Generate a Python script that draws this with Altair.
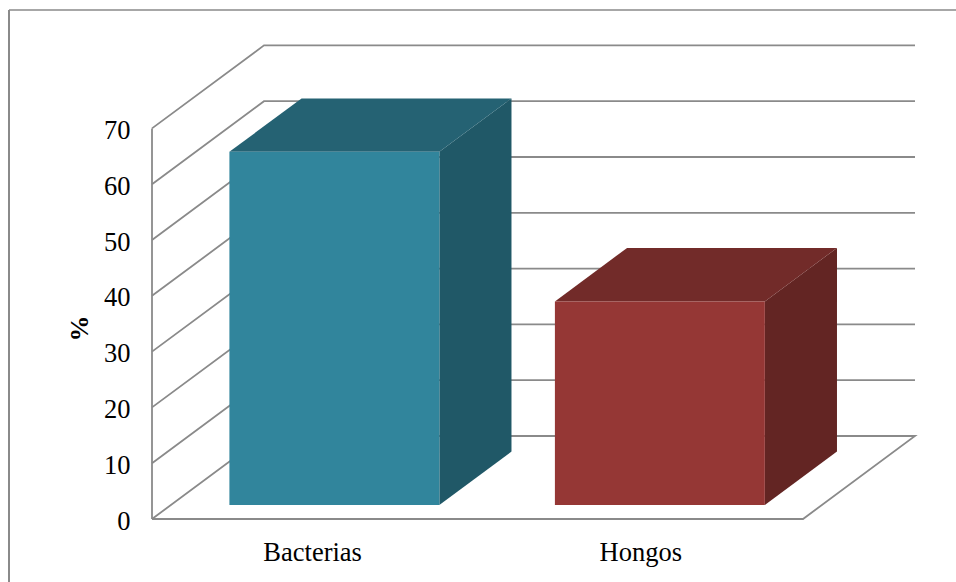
import altair as alt
import pandas as pd

# Survey values
categories = ["Bacterias", "Hongos"]
percent = [63.3, 36.5]
axis_values = [0, 10, 20, 30, 40, 50, 60, 70]

front_colors = ["#31859C", "#953735"]
top_colors = ["#256273", "#722B29"]
side_colors = ["#205867", "#632523"]

# Oblique projection of the box: one unit of depth shifts a point right and up
PX_PER_SLOT = 325.5
PX_PER_UNIT = 5.58
DEPTH_X = 112 / PX_PER_SLOT
DEPTH_Y = 83 / PX_PER_UNIT
BAR_START, BAR_END = 0.18, 0.825
DEPTH_FRONT, DEPTH_BACK = 0.168, 0.812
PLOT_W, PLOT_H = 763, 474
SLOTS = len(categories)


def project(slot, value, depth):
    return slot + depth * DEPTH_X, value + depth * DEPTH_Y


# Wall grid, floor outline and value axis line
grid_rows = []


def add_path(name, points):
    for i, (s, v, d) in enumerate(points):
        px, py = project(s, v, d)
        grid_rows.append({"path": name, "i": i, "px": px, "py": py})


for v in axis_values[1:]:
    add_path(f"g{v}", [(0, v, 0), (0, v, 1), (SLOTS, v, 1)])
add_path("floor", [(0, 0, 0), (SLOTS, 0, 0), (SLOTS, 0, 1), (0, 0, 1), (0, 0, 0)])
add_path("axis", [(0, 0, 0), (0, axis_values[-1], 0)])
grid = pd.DataFrame(grid_rows)

# Box faces, one row per edge point
front_rows, side_rows, top_rows = [], [], []
for k, (cat, val) in enumerate(zip(categories, percent)):
    left, right = k + BAR_START, k + BAR_END
    x0, y0 = project(left, 0, DEPTH_FRONT)
    x1, y1 = project(right, val, DEPTH_FRONT)
    front_rows.append({"cat": cat, "x": x0, "x2": x1, "y": y1, "y2": y0})
    for d in (DEPTH_FRONT, DEPTH_BACK):
        sx, sy = project(right, val, d)
        _, sb = project(right, 0, d)
        side_rows.append({"cat": cat, "x": sx, "y": sy, "y2": sb})
        tl, ty = project(left, val, d)
        top_rows.append({"cat": cat, "x": tl, "x2": sx, "y": ty})
front = pd.DataFrame(front_rows)
side = pd.DataFrame(side_rows)
top = pd.DataFrame(top_rows)

x_scale = alt.Scale(domain=[0, PLOT_W / PX_PER_SLOT], nice=False, zero=False)
y_scale = alt.Scale(domain=[0, PLOT_H / PX_PER_UNIT], nice=False, zero=False)
FONT = "Liberation Serif"


def cat_color(colors):
    return alt.Color("cat:N", scale=alt.Scale(domain=categories, range=colors), legend=None)


x_axis = alt.Axis(
    values=[0.492, 1.5],
    labelExpr="datum.value < 1 ? 'Bacterias' : 'Hongos'",
    title=None, domain=False, ticks=False, grid=False,
    labelFont=FONT, labelFontSize=26.5, labelColor="#000000", labelPadding=20,
    labelOverlap=False, labelFlush=False,
)
y_axis = alt.Axis(
    values=axis_values, title="%", domain=False, ticks=False, grid=False,
    labelFont=FONT, labelFontSize=26.5, labelColor="#000000", labelPadding=22, labelOffset=2,
    titleFont=FONT, titleFontSize=26, titleFontWeight="bold", titleColor="#000000",
    titleX=-60, titleY=283, titleAngle=270,
)

grid_layer = alt.Chart(grid).mark_line(color="#8A8A8A", strokeWidth=1.8).encode(
    x=alt.X("px:Q", scale=x_scale, axis=x_axis),
    y=alt.Y("py:Q", scale=y_scale, axis=y_axis),
    detail="path:N",
    order="i:Q",
)

front_layer = alt.Chart(front).mark_rect().encode(
    x=alt.X("x:Q", scale=x_scale), x2="x2:Q",
    y=alt.Y("y:Q", scale=y_scale), y2="y2:Q",
    color=cat_color(front_colors),
)

side_layer = alt.Chart(side).mark_area().encode(
    x=alt.X("x:Q", scale=x_scale),
    y=alt.Y("y:Q", scale=y_scale, stack=None), y2="y2:Q",
    color=cat_color(side_colors),
    detail="cat:N",
)

top_layer = alt.Chart(top).mark_area(orient="horizontal").encode(
    y=alt.Y("y:Q", scale=y_scale, stack=None),
    x=alt.X("x:Q", scale=x_scale, stack=None), x2="x2:Q",
    color=cat_color(top_colors),
    detail="cat:N",
)

# Outer frame: top and left edges of the chart box
frame_top = alt.Chart(pd.DataFrame({"k": [0]})).mark_rule(color="#8A8A8A", strokeWidth=1.5).encode(
    x=alt.value(-143), x2=alt.value(804), y=alt.value(-35)
)
frame_left = alt.Chart(pd.DataFrame({"k": [0]})).mark_rule(color="#8A8A8A", strokeWidth=2).encode(
    x=alt.value(-143), y=alt.value(-35), y2=alt.value(537)
)

chart = (
    alt.layer(frame_top, frame_left, grid_layer, side_layer, top_layer, front_layer)
    .resolve_scale(color="independent")
    .properties(
        width=PLOT_W, height=PLOT_H,
        autosize=alt.AutoSizeParams(type="none"),
        padding={"left": 152, "top": 45, "right": 41, "bottom": 63},
        background="#FFFFFF",
    )
    .configure_view(stroke=None)
)

chart.save("out.html", embed_options={"renderer": "svg", "actions": False})
